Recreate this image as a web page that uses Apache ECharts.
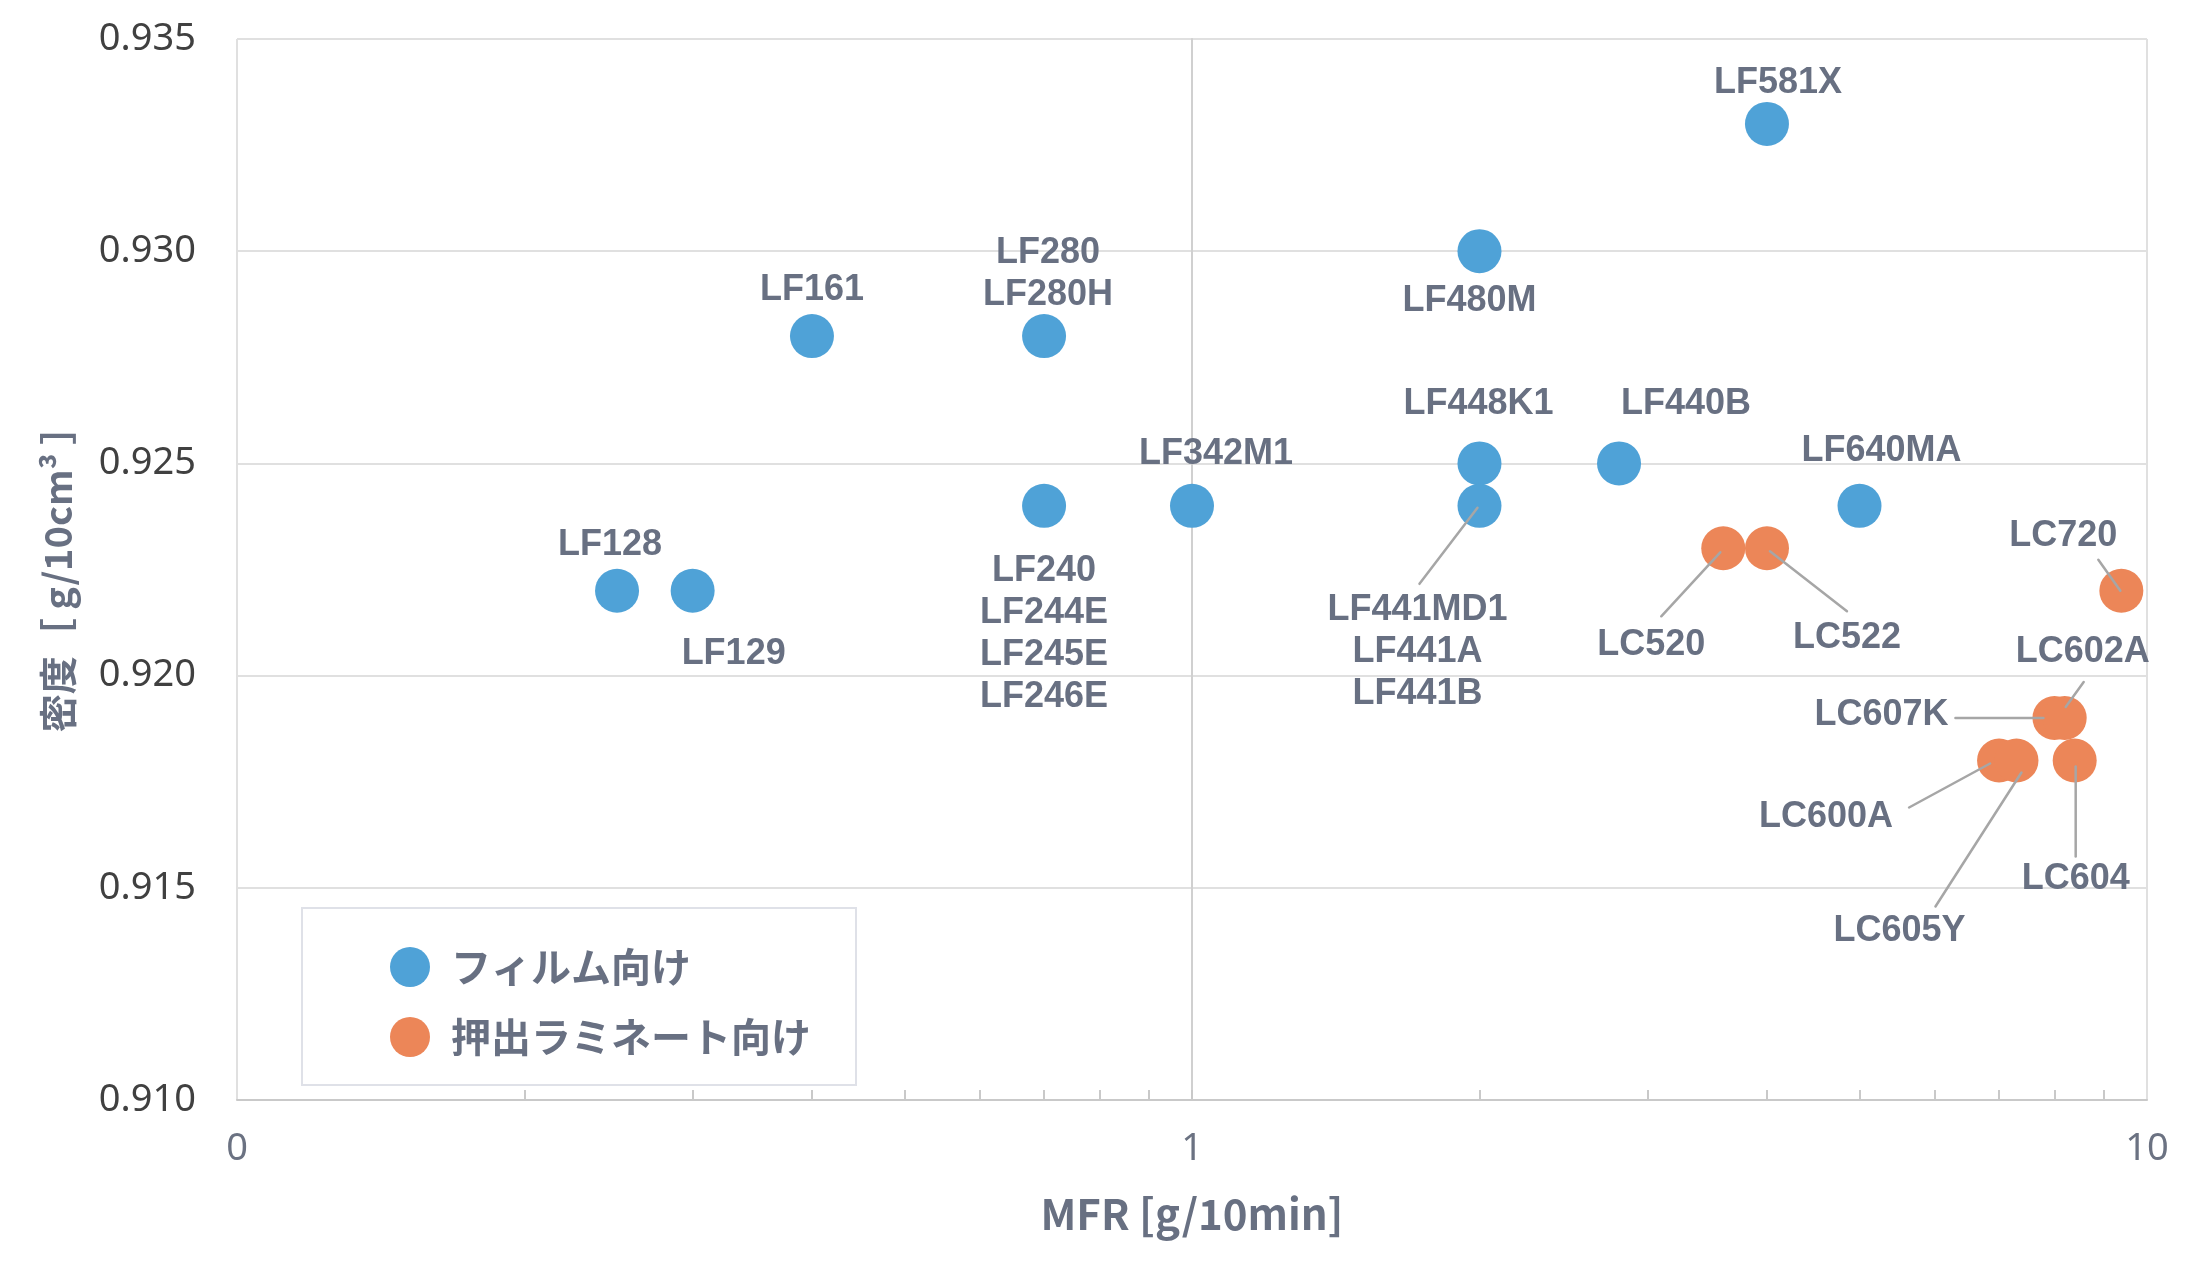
<!DOCTYPE html>
<html><head><meta charset="utf-8">
<script src="https://cdn.jsdelivr.net/npm/echarts@6/dist/echarts.min.js"></script>
<style>html,body{margin:0;padding:0;background:#fff}#c{width:2200px;height:1278px}</style>
</head><body><div id="c"></div>
<script>
// ---- data ----
const seriesNames = ['フィルム向け', '押出ラミネート向け'];
const filmNames = ['LF128', 'LF129', 'LF161', 'LF280\nLF280H', 'LF240\nLF244E\nLF245E\nLF246E', 'LF342M1', 'LF448K1', 'LF441MD1\nLF441A\nLF441B', 'LF480M', 'LF440B', 'LF581X', 'LF640MA'];
const filmMFR = [0.25, 0.3, 0.4, 0.7, 0.7, 1.0, 2.0, 2.0, 2.0, 2.8, 4.0, 5.0];
const filmDensity = [0.922, 0.922, 0.928, 0.928, 0.924, 0.924, 0.925, 0.924, 0.930, 0.925, 0.933, 0.924];
const extNames = ['LC520', 'LC522', 'LC720', 'LC607K', 'LC602A', 'LC600A', 'LC605Y', 'LC604'];
const extMFR = [3.6, 4.0, 9.4, 8.0, 8.2, 7.0, 7.3, 8.4];
const extDensity = [0.923, 0.923, 0.922, 0.919, 0.919, 0.918, 0.918, 0.918];
const xTickValues = [0.1, 1, 10];
const xTickLabels = ['0', '1', '10'];
const yTickValues = [0.910, 0.915, 0.920, 0.925, 0.930, 0.935];
const yTickLabels = ['0.910', '0.915', '0.920', '0.925', '0.930', '0.935'];
const minorTickValues = [0.2, 0.3, 0.4, 0.5, 0.6, 0.7, 0.8, 0.9, 1, 2, 3, 4, 5, 6, 7, 8, 9];

// ---- label placement (pixel offsets from marker centre) ----
const labelOffsets = {
  LF128: [-7, -46], LF129: [41, 63], LF161: [0, -46], LF280: [4, -62],
  LF240: [0, 128], LF342M1: [24, -52], LF448K1: [-1, -59], LF441MD1: [-62, 146],
  LF480M: [-10, 50], LF440B: [67, -59], LF581X: [11, -41], LF640MA: [22, -55],
  LC520: [-72, 97], LC522: [80, 90], LC720: [-58, -55], LC602A: [18, -66],
  LC607K: [-173, -3], LC600A: [-173, 57], LC605Y: [-117, 171], LC604: [1, 119]
};
// leader lines: [startDx, startDy, endDx, endDy] in pixels from marker centre
const leaderOffsets = {
  LF441MD1: [-2, 2, -60, 78], LC520: [-3, 4, -62, 68], LC522: [3, 3, 80, 63],
  LC720: [-1, 0, -23, -31], LC602A: [1, -11, 19, -36], LC607K: [-11, 0, -99, 0],
  LC600A: [-9, 3, -90, 47], LC605Y: [5, 12, -81, 146], LC604: [1, 6, 1, 96]
};

const COLORS = ['#4FA2D7', '#EC8658'];
const TEXT = '#687082';

function key(n) { return n.split('\n')[0]; }
function buildData(names, xs, ys) {
  return names.map((n, i) => ({ name: n, value: [xs[i], ys[i]] }));
}
function layoutFor(names) {
  return function (p) {
    const off = labelOffsets[key(names[p.dataIndex])] || [0, 0];
    return {
      x: p.rect.x + p.rect.width / 2 + off[0],
      y: p.rect.y + p.rect.height / 2 + off[1],
      align: 'center', verticalAlign: 'middle'
    };
  };
}
function seriesFor(idx, names, xs, ys) {
  return {
    name: seriesNames[idx], type: 'scatter', xAxisIndex: 0, yAxisIndex: 0,
    symbol: 'circle', symbolSize: 44,
    itemStyle: { color: COLORS[idx], opacity: 1 },
    data: buildData(names, xs, ys),
    label: {
      show: true, position: 'inside', formatter: '{b}',
      fontFamily: 'Liberation Sans', fontWeight: 'bold', fontSize: 36,
      lineHeight: 42, color: TEXT, align: 'center'
    },
    labelLayout: layoutFor(names),
    emphasis: { disabled: true },
    z: 3
  };
}

// leader-line points taken from the same data arrays
const leaderData = [];
[[filmNames, filmMFR, filmDensity], [extNames, extMFR, extDensity]].forEach(function (s) {
  s[0].forEach(function (n, i) {
    if (leaderOffsets[key(n)]) leaderData.push({ name: key(n), value: [s[1][i], s[2][i]] });
  });
});

const chart = echarts.init(document.getElementById('c'), null, { renderer: 'canvas' });
chart.setOption({
  animation: false,
  backgroundColor: '#ffffff',
  grid: { left: 237, top: 39, right: 53, bottom: 178, containLabel: false },
  legend: {
    data: seriesNames, orient: 'vertical', left: 302, top: 908,
    padding: [39, 45, 28, 88], itemGap: 30, itemWidth: 40, itemHeight: 40,
    icon: 'circle', borderColor: '#dfe1e8', borderWidth: 2, backgroundColor: '#ffffff',
    textStyle: { fontFamily: 'Noto Sans CJK JP', fontWeight: 'bold', fontSize: 40, color: TEXT, padding: [0, 0, 0, 16] }
  },
  xAxis: [{
    type: 'log', logBase: 10, min: 0.1, max: 10,
    name: 'MFR [g/10min]', nameLocation: 'middle', nameGap: 93,
    nameTextStyle: { fontFamily: 'Noto Sans CJK JP', fontWeight: 'bold', fontSize: 42, color: TEXT },
    axisLine: { show: true, lineStyle: { color: '#c9c9c9', width: 2 } },
    axisTick: { show: false },
    axisLabel: {
      margin: 30, fontFamily: 'Noto Sans', fontSize: 38, color: '#6b7282',
      formatter: function (v) {
        for (let i = 0; i < xTickValues.length; i++) if (Math.abs(v - xTickValues[i]) < 1e-9 * xTickValues[i] + 1e-12) return xTickLabels[i];
        return '';
      }
    },
    splitLine: { show: true, lineStyle: { color: '#e0e0e0', width: 2 } }
  }, {
    type: 'value', min: -1, max: 1, position: 'bottom',
    axisLine: { show: false }, axisLabel: { show: false }, splitLine: { show: false },
    axisTick: { show: true, inside: true, length: 10, customValues: minorTickValues.map(v => Math.log10(v)), lineStyle: { color: '#c9c9c9', width: 2 } }
  }],
  yAxis: {
    type: 'value', min: 0.910, max: 0.935, interval: 0.005,
    name: '密度［ g/10cm³ ］', nameLocation: 'middle', nameGap: 160,
    nameTextStyle: { fontFamily: 'Noto Sans CJK JP', fontWeight: 'bold', fontSize: 38, color: TEXT },
    axisLine: { show: true, lineStyle: { color: '#d0d0d0', width: 2 } },
    axisTick: { show: false },
    axisLabel: {
      margin: 41, fontFamily: 'Noto Sans', fontSize: 38, color: '#404040',
      formatter: function (v) {
        for (let i = 0; i < yTickValues.length; i++) if (Math.abs(v - yTickValues[i]) < 1e-7) return yTickLabels[i];
        return '';
      }
    },
    splitLine: { show: true, lineStyle: { color: '#e0e0e0', width: 2 } }
  },
  series: [
    seriesFor(0, filmNames, filmMFR, filmDensity),
    seriesFor(1, extNames, extMFR, extDensity),
    {
      name: 'leaders', type: 'custom', xAxisIndex: 0, yAxisIndex: 0, z: 5,
      silent: true, data: leaderData,
      renderItem: function (params, api) {
        const p = api.coord([api.value(0), api.value(1)]);
        const o = leaderOffsets[leaderData[params.dataIndex].name];
        return {
          type: 'line',
          shape: { x1: p[0] + o[0], y1: p[1] + o[1], x2: p[0] + o[2], y2: p[1] + o[3] },
          style: { stroke: '#a6a6a6', lineWidth: 2.5, lineCap: 'round' }
        };
      }
    }
  ]
});
</script></body></html>
